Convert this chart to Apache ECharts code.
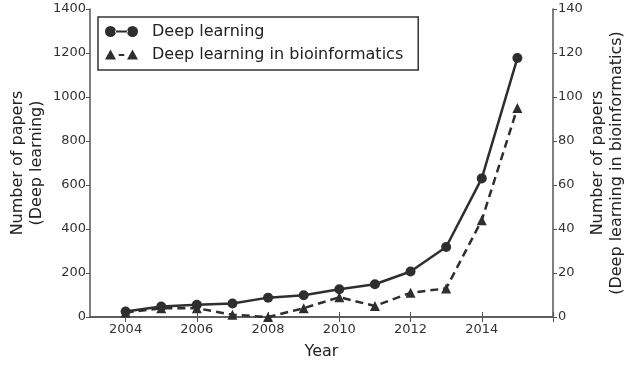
<!DOCTYPE html>
<html>
<head>
<meta charset="utf-8">
<script src="https://cdn.jsdelivr.net/npm/echarts@6/dist/echarts.min.js"></script>
<style>
  html, body { margin: 0; padding: 0; background: #fff; }
  #myChart { width: 640px; height: 377px; }
</style>
</head>
<body>
<div id="myChart"></div>
<script>
// data
var years = [2004, 2005, 2006, 2007, 2008, 2009, 2010, 2011, 2012, 2013, 2014, 2015];
var deepLearning = [25, 48, 56, 61, 88, 99, 126, 149, 207, 318, 630, 1177];
var deepLearningBio = [2, 4, 4, 1, 0, 4, 9, 5, 11, 13, 44, 95];
var axisYears = [2003, 2004, 2005, 2006, 2007, 2008, 2009, 2010, 2011, 2012, 2013, 2014, 2015, 2016];

var dark = '#2e2e2e';
var font = 'DejaVu Sans';

var cats = axisYears.map(String);
var evenYear = function (idx, val) { return Number(val) % 2 === 0; };
var labelYear = function (idx, val) { return Number(val) % 2 === 0 && Number(val) < 2016; };

var iconDL = 'path://M0,6a6,6 0 1,0 12,0a6,6 0 1,0 -12,0Z M11,5h14v2h-14Z M24,6a6,6 0 1,0 12,0a6,6 0 1,0 -12,0Z';
var iconBio = 'path://M0,12L6,1L12,12Z M15,6h6v2h-6Z M24,12L30,1L36,12Z';

var myChart = echarts.init(document.getElementById('myChart'));
var option = {
  animation: false,
  textStyle: { fontFamily: font },
  grid: { left: 90, right: 87, top: 9, bottom: 60, outerBoundsMode: 'none', containLabel: false },
  legend: {
    orient: 'vertical',
    left: 98,
    top: 17,
    padding: [6, 15, 7, 7],
    itemGap: 6,
    itemWidth: 33,
    itemHeight: 11,
    borderColor: '#333',
    borderWidth: 1.5,
    borderRadius: 0,
    backgroundColor: '#fff',
    textStyle: { fontFamily: font, fontSize: 16, color: '#222', padding: [0, 0, 0, 9], lineHeight: 17 },
    data: [
      { name: 'Deep learning', icon: iconDL, itemStyle: { color: dark } },
      { name: 'Deep learning in bioinformatics', icon: iconBio, itemStyle: { color: dark } }
    ]
  },
  xAxis: [{
    type: 'category',
    data: cats,
    boundaryGap: false,
    name: 'Year',
    nameLocation: 'middle',
    nameGap: 27,
    nameTextStyle: { fontFamily: font, fontSize: 16, color: '#222' },
    axisLine: { lineStyle: { color: '#555', width: 1.5 } },
    axisTick: { inside: true, length: 5, interval: evenYear, lineStyle: { color: '#555' } },
    axisLabel: { interval: labelYear, fontFamily: font, fontSize: 13, color: '#333', margin: 6 },
    splitLine: { show: false }
  }, {
    type: 'category',
    data: cats,
    boundaryGap: false,
    position: 'top',
    axisLine: { lineStyle: { color: '#555', width: 1.5 } },
    axisTick: { inside: true, length: 5, interval: evenYear, lineStyle: { color: '#555' } },
    axisLabel: { show: false },
    splitLine: { show: false }
  }],
  yAxis: [{
    type: 'value',
    min: 0, max: 1400, interval: 200,
    name: 'Number of papers\n(Deep learning)',
    nameLocation: 'middle',
    nameRotate: 90,
    nameGap: 44,
    nameMoveOverlap: false,
    nameTextStyle: { fontFamily: font, fontSize: 16, color: '#222', lineHeight: 19 },
    axisLine: { show: true, lineStyle: { color: '#555', width: 1.5 } },
    axisTick: { show: true, length: 4, lineStyle: { color: '#555' } },
    axisLabel: { fontFamily: font, fontSize: 13, color: '#333', margin: 4, formatter: function (v) { return String(v); } },
    splitLine: { show: false }
  }, {
    type: 'value',
    min: 0, max: 140, interval: 20,
    position: 'right',
    name: 'Number of papers\n(Deep learning in bioinformatics)',
    nameLocation: 'middle',
    nameRotate: 90,
    nameGap: 35,
    nameMoveOverlap: false,
    nameTextStyle: { fontFamily: font, fontSize: 16, color: '#222', lineHeight: 19 },
    axisLine: { show: true, lineStyle: { color: '#555', width: 1.5 } },
    axisTick: { show: true, length: 4, lineStyle: { color: '#555' } },
    axisLabel: { fontFamily: font, fontSize: 13, color: '#333', margin: 5 },
    splitLine: { show: false }
  }],
  series: [{
    name: 'Deep learning',
    type: 'line',
    xAxisIndex: 0,
    yAxisIndex: 0,
    data: years.map(function (y, i) { return [String(y), deepLearning[i]]; }),
    symbol: 'circle',
    symbolSize: 10,
    lineStyle: { color: dark, width: 2.5 },
    itemStyle: { color: dark }
  }, {
    name: 'Deep learning in bioinformatics',
    type: 'line',
    xAxisIndex: 0,
    yAxisIndex: 1,
    data: years.map(function (y, i) { return [String(y), deepLearningBio[i]]; }),
    symbol: 'triangle',
    symbolSize: 10,
    lineStyle: { color: dark, width: 2.5, type: [8, 5] },
    itemStyle: { color: dark }
  }]
};
myChart.setOption(option);
</script>
</body>
</html>
